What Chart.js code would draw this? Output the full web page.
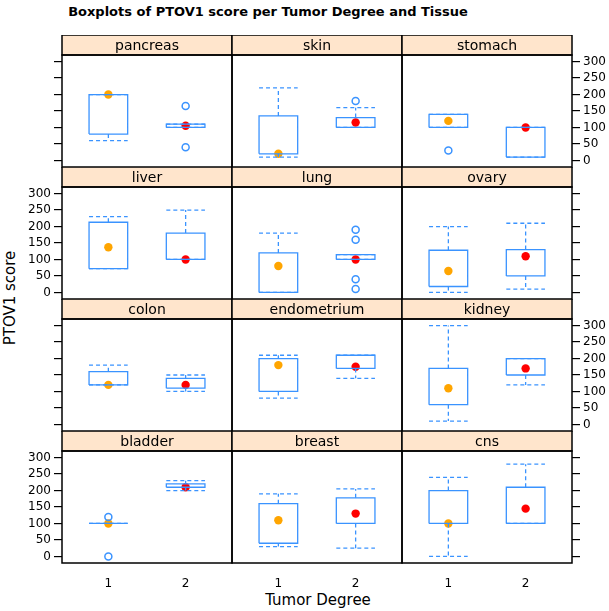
<!DOCTYPE html>
<html>
<head>
<meta charset="utf-8">
<script src="https://cdn.jsdelivr.net/npm/chart.js@4.4.0/dist/chart.umd.min.js"></script>
<style>
    body { margin: 0; width: 609px; height: 611px; overflow: hidden; position: relative; background: #fff; font-family: "DejaVu Sans", sans-serif; color: #000; }
    canvas { position: absolute; }
    .texto { position: absolute; white-space: nowrap; transform: translate(-50%, -50%); }
    #titulo { left: 268px; top: 11px; font-weight: bold; font-size: 13px; }
    #eixoY { left: 10px; top: 298px; font-size: 15px; transform: translate(-50%, -50%) rotate(-90deg); }
    #eixoX { left: 318px; top: 600px; font-size: 15px; }
</style>
</head>
<body>
<div id="titulo" class="texto">Boxplots of PTOV1 score per Tumor Degree and Tissue</div>
<div id="eixoY" class="texto">PTOV1 score</div>
<div id="eixoX" class="texto">Tumor Degree</div>
<script>
// one row per tissue, [degree 1, degree 2]
const tissues = ["pancreas", "skin", "stomach", "liver", "lung", "ovary", "colon", "endometrium", "kidney", "bladder", "breast", "cns"];
const degrees = [1, 2];
const yTicks = [0, 50, 100, 150, 200, 250, 300];

const whiskerLow = [[60, 100], [10, 100], [100, 10], [72, 100], [0, 100], [0, 10], [120, 100], [80, 140], [10, 120], [100, 200], [30, 25], [0, 100]];
const q1 = [[80, 100], [20, 100], [100, 10], [72, 100], [0, 100], [18, 50], [120, 110], [100, 170], [60, 150], [100, 210], [40, 100], [100, 100]];
const median = [[200, 105], [20, 115], [120, 100], [137, 100], [80, 100], [65, 110], [120, 120], [180, 175], [110, 170], [100, 210], [110, 130], [100, 145]];
const q3 = [[200, 110], [135, 130], [140, 100], [213, 180], [120, 115], [128, 130], [160, 140], [200, 210], [170, 200], [100, 220], [160, 178], [200, 210]];
const whiskerHigh = [[200, 110], [220, 160], [140, 100], [230, 250], [180, 115], [200, 210], [180, 150], [210, 210], [300, 200], [100, 230], [190, 205], [240, 280]];
const outliers = [[[], [165, 40]], [[], [180]], [[30], []], [[], []], [[], [190, 160, 40, 10]], [[], []],
                  [[], []], [[], []], [[], []], [[120, 0], []], [[], []], [[], []]];

const PANEL_W = 170, PANEL_H = 112, STRIP_H = 20;
const LEFT_AXIS = 62, RIGHT_AXIS = 36, BOTTOM_AXIS = 40;
const ORIGIN_X = 62, ORIGIN_Y = 35;
const BOX_HALF = 0.25;

const boxColor = "#3a93ff";
const medianColors = ["#ffa500", "#ff0000"];
const tickFont = { family: "DejaVu Sans", size: 12 };

const panelFrame = {
    id: "panelFrame",
    afterDraw(chart, args, opts) {
        const { ctx, chartArea: a } = chart;
        const w = a.right - a.left;
        ctx.save();
        ctx.fillStyle = "#ffe5cc";
        ctx.fillRect(a.left, a.top - STRIP_H, w, STRIP_H);
        ctx.strokeStyle = "#000";
        ctx.lineWidth = 1.5;
        ctx.strokeRect(a.left, a.top - STRIP_H, w, STRIP_H);
        ctx.strokeRect(a.left, a.top, w, a.bottom - a.top);
        ctx.fillStyle = "#000";
        ctx.font = "14px 'DejaVu Sans'";
        ctx.textAlign = "center";
        ctx.textBaseline = "middle";
        ctx.fillText(opts.label, a.left + w / 2, a.top - STRIP_H / 2 + 1);
        ctx.restore();
    }
};

function montarDatasets(i) {
    const caixa = [], bigodes = [], medianas = [], fora = [];
    degrees.forEach((g, j) => {
        const lo = whiskerLow[i][j], a = q1[i][j], b = q3[i][j], hi = whiskerHigh[i][j];
        caixa.push({ x: g - BOX_HALF, y: a }, { x: g + BOX_HALF, y: a }, { x: g + BOX_HALF, y: b },
                   { x: g - BOX_HALF, y: b }, { x: g - BOX_HALF, y: a }, { x: g, y: null });
        bigodes.push({ x: g, y: b }, { x: g, y: hi }, { x: g, y: null },
                     { x: g - BOX_HALF, y: hi }, { x: g + BOX_HALF, y: hi }, { x: g, y: null },
                     { x: g, y: a }, { x: g, y: lo }, { x: g, y: null },
                     { x: g - BOX_HALF, y: lo }, { x: g + BOX_HALF, y: lo }, { x: g, y: null });
        medianas.push({ x: g, y: median[i][j] });
        outliers[i][j].forEach(v => fora.push({ x: g, y: v }));
    });

    return [
        { data: bigodes, showLine: true, borderColor: boxColor, borderWidth: 1.3, borderDash: [4, 3], pointRadius: 0, spanGaps: false },
        { data: caixa, showLine: true, borderColor: boxColor, borderWidth: 1.3, pointRadius: 0, spanGaps: false },
        { data: fora, pointRadius: 3.5, pointBorderColor: boxColor, pointBackgroundColor: "rgba(0,0,0,0)", pointBorderWidth: 1.5 },
        { data: medianas, pointRadius: 4.2, pointBackgroundColor: medianColors, pointBorderColor: medianColors, pointBorderWidth: 0 }
    ];
}

function eixoY(position, visivel, rotulos) {
    return {
        type: "linear",
        position: position,
        min: -20,
        max: 320,
        afterBuildTicks: s => { s.ticks = yTicks.map(v => ({ value: v })); },
        afterFit: s => { s.width = position === "left" ? LEFT_AXIS : RIGHT_AXIS; },
        grid: { display: visivel, drawOnChartArea: false, drawTicks: true, tickLength: 8, color: "#000", lineWidth: 1.2 },
        border: { display: false },
        ticks: { display: rotulos, color: "#000", font: tickFont, padding: 3 }
    };
}

tissues.forEach((nome, i) => {
    const row = Math.floor(i / 3), col = i % 3;
    const canvas = document.createElement("canvas");
    canvas.width = LEFT_AXIS + PANEL_W + RIGHT_AXIS;
    canvas.height = STRIP_H + PANEL_H + BOTTOM_AXIS;
    canvas.style.left = (ORIGIN_X + col * PANEL_W - LEFT_AXIS) + "px";
    canvas.style.top = (ORIGIN_Y + row * (STRIP_H + PANEL_H)) + "px";
    document.body.appendChild(canvas);

    new Chart(canvas, {
        type: "scatter",
        data: { datasets: montarDatasets(i) },
        options: {
            responsive: false,
            animation: false,
            events: [],
            layout: { padding: { top: STRIP_H, left: 0, right: 0, bottom: 0 } },
            plugins: {
                legend: { display: false },
                tooltip: { enabled: false },
                panelFrame: { label: nome }
            },
            scales: {
                x: {
                    type: "linear",
                    position: "bottom",
                    min: 0.4,
                    max: 2.6,
                    afterBuildTicks: s => { s.ticks = degrees.map(v => ({ value: v })); },
                    afterFit: s => { s.height = BOTTOM_AXIS; },
                    grid: { display: false },
                    border: { display: false },
                    ticks: { display: row === 3, color: "#000", font: tickFont, padding: 6, callback: v => String(v) }
                },
                y: eixoY("left", col === 0, col === 0 && row % 2 === 1),
                y2: eixoY("right", col === 2, col === 2 && row % 2 === 0)
            }
        },
        plugins: [panelFrame]
    });
});
</script>
</body>
</html>
